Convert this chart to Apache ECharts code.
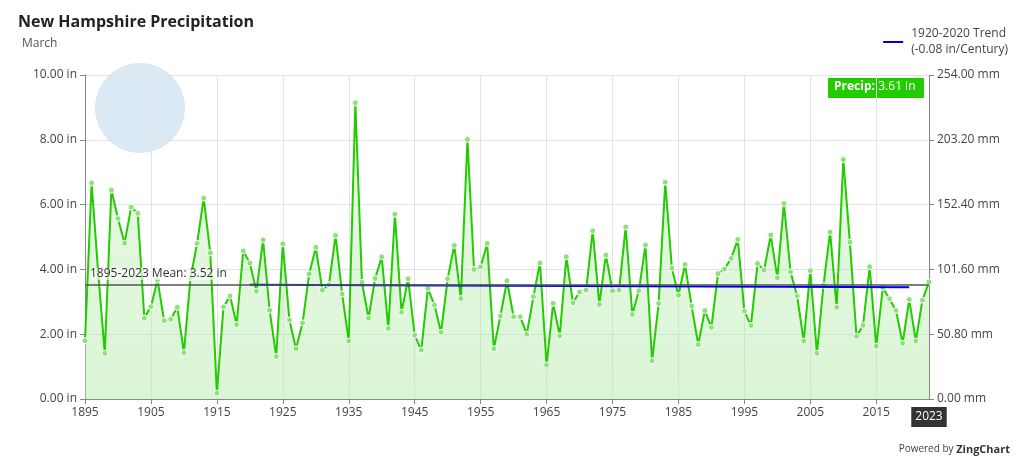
<!DOCTYPE html>
<html>
<head>
<meta charset="utf-8">
<script src="https://cdn.jsdelivr.net/npm/echarts@6/dist/echarts.min.js"></script>
<style>
  html, body { margin: 0; padding: 0; background: #fff; }
  #main { width: 1024px; height: 465px; }
</style>
</head>
<body>
<div id="main"></div>
<script>
  const years = [];
  for (let y = 1895; y <= 2023; y++) years.push(String(y));

  const precip = [
    1.80, 6.67, 3.90, 1.41, 6.45, 5.57, 4.81, 5.92, 5.73, 2.50,
    2.85, 3.67, 2.42, 2.46, 2.83, 1.43, 3.74, 4.80, 6.20, 4.51,
    0.18, 2.84, 3.18, 2.30, 4.57, 4.20, 3.33, 4.91, 2.74, 1.31,
    4.79, 2.44, 1.55, 2.35, 3.86, 4.68, 3.36, 3.53, 5.05, 3.24,
    1.79, 9.14, 3.60, 2.50, 3.72, 4.39, 2.18, 5.70, 2.68, 3.71,
    1.97, 1.51, 3.41, 2.90, 2.06, 3.71, 4.74, 3.10, 8.01, 4.00,
    4.08, 4.80, 1.55, 2.56, 3.65, 2.54, 2.54, 2.00, 3.16, 4.20,
    1.05, 2.95, 1.95, 4.39, 2.97, 3.30, 3.36, 5.19, 2.92, 4.44,
    3.34, 3.36, 5.31, 2.61, 3.34, 4.75, 1.18, 2.95, 6.69, 4.04,
    3.20, 4.15, 2.87, 1.68, 2.73, 2.21, 3.87, 4.01, 4.34, 4.92,
    2.71, 2.27, 4.18, 3.98, 5.06, 3.74, 6.03, 3.92, 3.18, 1.79,
    3.96, 1.41, 3.51, 5.15, 2.83, 7.39, 4.84, 1.94, 2.27, 4.08,
    1.63, 3.44, 3.09, 2.73, 1.72, 3.07, 1.79, 3.05, 3.61
  ];

  const meanValue = 3.52;
  const trendStart = 3.53; // 1920
  const trendEnd = 3.45;   // 2020
  const trend = years.map(y => y === '1920' ? trendStart : (y === '2020' ? trendEnd : null));

  const chart = echarts.init(document.getElementById('main'));
  const font = 'Open Sans';

  chart.setOption({
    animation: false,
    textStyle: { fontFamily: font },
    graphic: [
      { type: 'circle', shape: { cx: 140, cy: 108, r: 45 }, style: { fill: '#dbe9f5' }, z: 0 },
      { type: 'text', left: 18, top: 14, style: { text: 'New Hampshire Precipitation', font: 'bold 16px ' + font, fill: '#222' } },
      { type: 'text', left: 22, top: 38, style: { text: 'March', font: '12px ' + font, fill: '#555' } },
      { type: 'text', right: 14, top: 444, style: {
        text: 'Powered by {z|ZingChart}', font: '10px ' + font, fill: '#444',
        rich: { z: { fontWeight: 'bold', fontSize: 11, fill: '#333', fontFamily: font } }
      } },
      { type: 'group', right: 16, top: 26, children: [
        { type: 'line', shape: { x1: 0, y1: 16, x2: 20, y2: 16 }, style: { stroke: '#0000cc', lineWidth: 2 } },
        { type: 'text', x: 28, y: 0, style: { text: '1920-2020 Trend\n(-0.08 in/Century)', font: '12px ' + font, fill: '#444', lineHeight: 16 } }
      ] },
      { type: 'group', left: 828, top: 78, children: [
        { type: 'rect', shape: { x: 0, y: 0, width: 96, height: 20 }, style: { fill: '#22cc00' } },
        { type: 'text', x: 6, y: 3, style: {
          text: '{b|Precip:} {n|3.61 in}',
          rich: {
            b: { fontWeight: 'bold', fill: '#fff', fontSize: 12, fontFamily: font },
            n: { fill: '#fff', fontSize: 12, fontFamily: font }
          }
        } }
      ] }
    ],
    grid: { left: 85, right: 95, top: 75, bottom: 66 },
    xAxis: {
      type: 'category',
      data: years,
      boundaryGap: false,
      axisLine: { lineStyle: { color: '#888' } },
      axisTick: { interval: 9, lineStyle: { color: '#888' } },
      axisLabel: {
        interval: (i, v) => i % 10 === 0 || v === '2023',
        color: '#444', fontSize: 12,
        formatter: v => v === '2023' ? '{h|2023}' : v,
        rich: { h: { backgroundColor: '#333', color: '#fff', padding: [4, 4], fontSize: 12 } }
      },
      splitLine: { show: true, interval: 9, lineStyle: { color: '#e3e3e3' } }
    },
    yAxis: [
      {
        type: 'value', min: 0, max: 10, interval: 2,
        axisLine: { show: true, lineStyle: { color: '#888' } },
        axisTick: { show: true },
        axisLabel: { formatter: v => v.toFixed(2) + ' in', color: '#444', fontSize: 12 },
        splitLine: { lineStyle: { color: '#e3e3e3' } }
      },
      {
        type: 'value', min: 0, max: 254, interval: 50.8,
        axisLine: { show: true, lineStyle: { color: '#888' } },
        axisTick: { show: true },
        axisLabel: { formatter: v => v.toFixed(2) + ' mm', color: '#444', fontSize: 12 },
        splitLine: { show: false }
      }
    ],
    series: [
      {
        name: 'Precip', type: 'line', data: precip,
        symbol: 'circle', symbolSize: 6, showAllSymbol: true,
        lineStyle: { color: '#22cc00', width: 2 },
        itemStyle: { color: '#8ee07a', borderColor: '#fff', borderWidth: 1 },
        areaStyle: { color: {
          type: 'linear', x: 0, y: 0, x2: 0, y2: 1,
          colorStops: [{ offset: 0, color: 'rgba(180,235,170,0.4)' }, { offset: 1, color: 'rgba(180,235,170,0.7)' }]
        } },
        markLine: {
          silent: true, symbol: 'none',
          lineStyle: { color: '#555', type: 'solid', width: 1.5 },
          label: { position: 'insideStartTop', formatter: '1895-2023 Mean: 3.52 in', color: '#333', fontSize: 12, backgroundColor: 'rgba(255,255,255,0.6)' },
          data: [{ yAxis: meanValue }]
        },
        z: 3
      },
      {
        name: 'Trend', type: 'line', data: trend, connectNulls: true,
        symbol: 'none', lineStyle: { color: '#0000ee', width: 2 }, z: 4
      }
    ]
  });
</script>
</body>
</html>
